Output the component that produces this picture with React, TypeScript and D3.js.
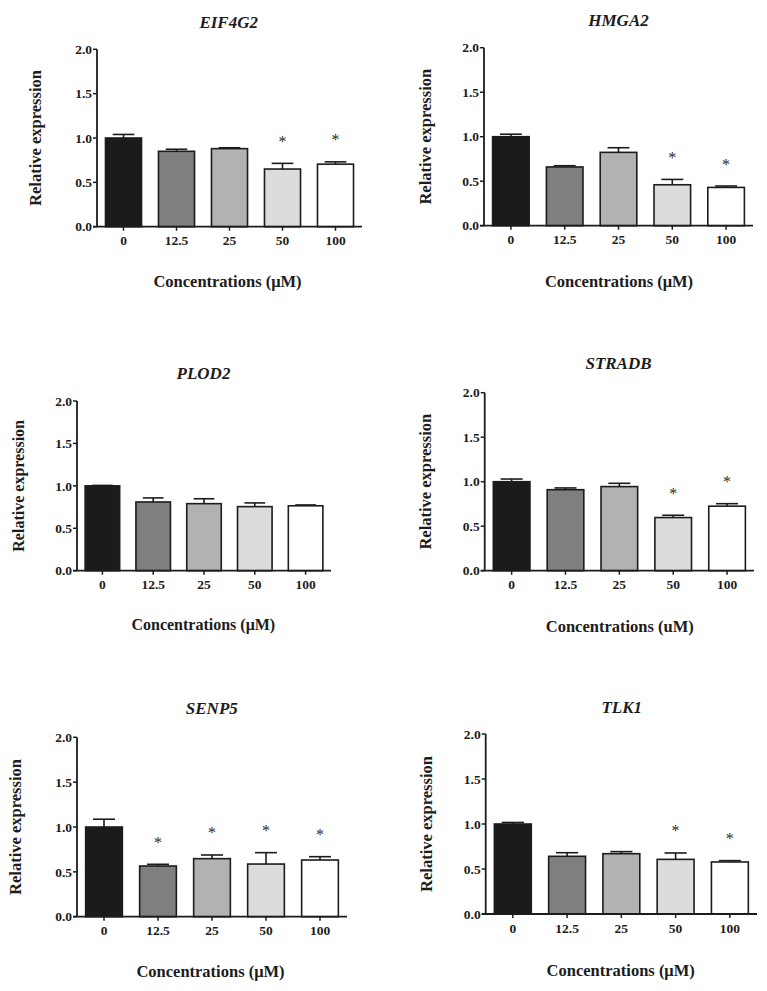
import React from "react";
import * as d3 from "d3";

// concentrations (µM) on the x axis
const concentrations = ["0", "12.5", "25", "50", "100"];
const barColors = ["#1b1b1b", "#7f7f7f", "#b2b2b2", "#dcdcdc", "#ffffff"];
const yTicks = [0, 0.5, 1.0, 1.5, 2.0];

const genes = ["EIF4G2", "HMGA2", "PLOD2", "STRADB", "SENP5", "TLK1"];

const eif4g2Mean = [1.0, 0.85, 0.88, 0.65, 0.705];
const eif4g2Err = [0.04, 0.023, 0.01, 0.064, 0.026];
const eif4g2Sig = [false, false, false, true, true];

const hmga2Mean = [1.0, 0.66, 0.824, 0.46, 0.43];
const hmga2Err = [0.028, 0.014, 0.052, 0.06, 0.016];
const hmga2Sig = [false, false, false, true, true];

const plod2Mean = [1.0, 0.81, 0.79, 0.755, 0.765];
const plod2Err = [0.005, 0.048, 0.058, 0.044, 0.01];
const plod2Sig = [false, false, false, false, false];

const stradbMean = [1.0, 0.91, 0.945, 0.597, 0.725];
const stradbErr = [0.03, 0.02, 0.037, 0.026, 0.028];
const stradbSig = [false, false, false, true, true];

const senp5Mean = [1.0, 0.565, 0.647, 0.587, 0.632];
const senp5Err = [0.087, 0.019, 0.041, 0.127, 0.037];
const senp5Sig = [false, true, true, true, true];

const tlk1Mean = [1.0, 0.641, 0.67, 0.607, 0.578];
const tlk1Err = [0.017, 0.04, 0.023, 0.071, 0.015];
const tlk1Sig = [false, false, false, true, true];

const xLabels = [
  "Concentrations (μM)",
  "Concentrations (μM)",
  "Concentrations (μM)",
  "Concentrations (uM)",
  "Concentrations (μM)",
  "Concentrations (μM)",
];

const means = [eif4g2Mean, hmga2Mean, plod2Mean, stradbMean, senp5Mean, tlk1Mean];
const errs = [eif4g2Err, hmga2Err, plod2Err, stradbErr, senp5Err, tlk1Err];
const sigs = [eif4g2Sig, hmga2Sig, plod2Sig, stradbSig, senp5Sig, tlk1Sig];

// panel frames: plot box, title / label anchors
const frames = [
  { left: 97, top: 49.3, bottom: 226.7, right: 362, tx: 228.7, ty: 21.7, lx: 227.5, ly: 281.7, yx: 35, fs: 16.5 },
  { left: 484, top: 47.7, bottom: 225.7, right: 753, tx: 618.5, ty: 20, lx: 619, ly: 281.7, yx: 425.7, fs: 16.5 },
  { left: 77, top: 401, bottom: 570.7, right: 331, tx: 203.5, ty: 373.3, lx: 203.3, ly: 624, yx: 18.7, fs: 16 },
  { left: 484.7, top: 392.7, bottom: 570.7, right: 754, tx: 618.5, ty: 363.3, lx: 619.8, ly: 626.7, yx: 425.7, fs: 16.5 },
  { left: 77, top: 737.3, bottom: 916.7, right: 347, tx: 211.8, ty: 708.3, lx: 210.5, ly: 971.7, yx: 15, fs: 16.5 },
  { left: 485.7, top: 734, bottom: 914, right: 757, tx: 621.8, ty: 706.7, lx: 620.7, ly: 970, yx: 426, fs: 16.5 },
];

const ink = "#1c1c1c";
const font = '"Liberation Serif", "Times New Roman", Times, "DejaVu Serif", serif';

function Panel({ idx }: { idx: number }) {
  const f = frames[idx];
  const mean = means[idx];
  const err = errs[idx];
  const sig = sigs[idx];

  const x = d3
    .scaleBand<string>()
    .domain(concentrations)
    .range([f.left, f.right])
    .paddingInner(0.32)
    .paddingOuter(0.16);
  const y = d3.scaleLinear().domain([0, 2]).range([f.bottom, f.top]);
  const bw = x.bandwidth();
  const cap = bw * 0.6;

  return (
    <g>
      <text
        x={f.tx}
        y={f.ty}
        dy="0.35em"
        textAnchor="middle"
        style={{ fontFamily: font, fontWeight: 700, fontStyle: "italic", fontSize: 17 }}
        fill={ink}
      >
        {genes[idx]}
      </text>

      {concentrations.map((c, i) => {
        const cx = (x(c) as number) + bw / 2;
        const top = y(mean[i]);
        const etop = y(mean[i] + err[i]);
        return (
          <g key={c}>
            <line x1={cx} x2={cx} y1={top} y2={etop} stroke={ink} strokeWidth={1.6} />
            <line x1={cx - cap / 2} x2={cx + cap / 2} y1={etop} y2={etop} stroke={ink} strokeWidth={1.6} />
            <rect
              x={x(c)}
              y={top}
              width={bw}
              height={f.bottom - top}
              fill={barColors[i]}
              stroke={ink}
              strokeWidth={1.6}
            />
            {sig[i] && (
              <text
                x={cx}
                y={etop - 16.5}
                textAnchor="middle"
                style={{ fontFamily: font, fontSize: 16 }}
                fill="#2a2a2a"
              >
                *
              </text>
            )}
          </g>
        );
      })}

      {/* axes */}
      <line x1={f.left} x2={f.left} y1={f.top} y2={f.bottom} stroke={ink} strokeWidth={1.8} />
      <line x1={f.left - 4} x2={f.right} y1={f.bottom} y2={f.bottom} stroke={ink} strokeWidth={1.8} />
      {yTicks.map((t) => (
        <g key={t}>
          <line x1={f.left - 4} x2={f.left} y1={y(t)} y2={y(t)} stroke={ink} strokeWidth={1.5} />
          <text
            x={f.left - 5}
            y={y(t)}
            dy="0.35em"
            textAnchor="end"
            style={{ fontFamily: font, fontWeight: 700, fontSize: 13.5 }}
            fill={ink}
          >
            {d3.format(".1f")(t)}
          </text>
        </g>
      ))}
      {concentrations.map((c) => {
        const cx = (x(c) as number) + bw / 2;
        return (
          <g key={c}>
            <line x1={cx} x2={cx} y1={f.bottom} y2={f.bottom + 4} stroke={ink} strokeWidth={1.5} />
            <text
              x={cx}
              y={f.bottom + 14}
              dy="0.35em"
              textAnchor="middle"
              style={{ fontFamily: font, fontWeight: 700, fontSize: 13.5 }}
              fill={ink}
            >
              {c}
            </text>
          </g>
        );
      })}

      <text
        x={f.lx}
        y={f.ly}
        dy="0.35em"
        textAnchor="middle"
        style={{ fontFamily: font, fontWeight: 700, fontSize: f.fs }}
        fill={ink}
      >
        {xLabels[idx]}
      </text>
      <text
        transform={`translate(${f.yx},${(f.top + f.bottom) / 2}) rotate(-90)`}
        dy="0.35em"
        textAnchor="middle"
        style={{ fontFamily: font, fontWeight: 700, fontSize: f.fs }}
        fill={ink}
      >
        Relative expression
      </text>
    </g>
  );
}

export default function App() {
  return (
    <svg
      width={767}
      height={991}
      viewBox="0 0 767 991"
      style={{ position: "absolute", left: 0, top: 0, background: "#fff", display: "block" }}
    >
      <rect width={767} height={991} fill="#fff" />
      {genes.map((g, i) => (
        <Panel key={g} idx={i} />
      ))}
    </svg>
  );
}
